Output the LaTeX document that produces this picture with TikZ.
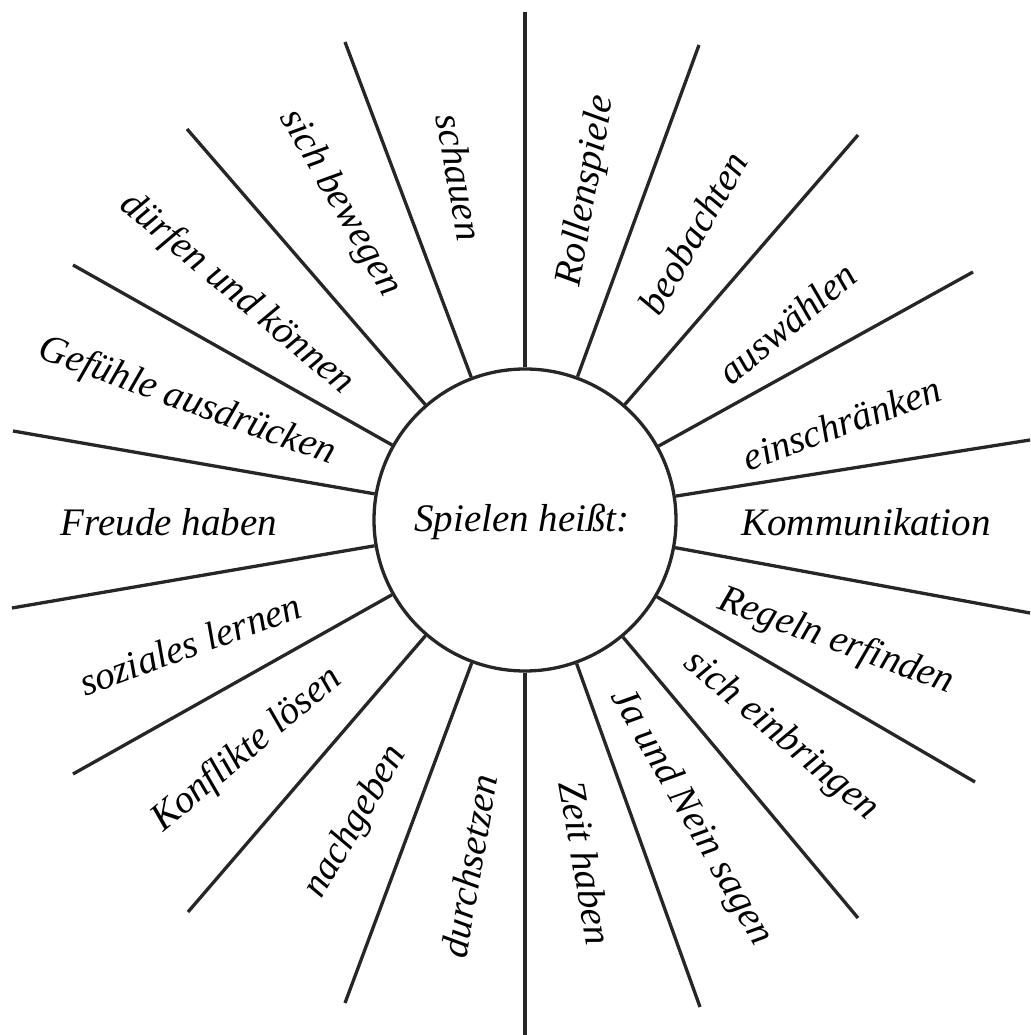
\documentclass[tikz,border=0pt]{standalone}
\usepackage{fontspec}
\setmainfont{Liberation Serif}
\begin{document}
\begin{tikzpicture}[x=1pt,y=1pt,
  lab/.style={font=\fontsize{39}{47}\selectfont\itshape, inner sep=0pt},
  spoke/.style={line width=3.3pt, black!85},
  hub/.style={draw=black!85, circle, line width=3.3pt, minimum size=302pt, inner sep=0pt}]
\useasboundingbox (0,0) rectangle (1030,1035);
\fill[white] (0,0) rectangle (1030,1035);
\node[hub] (c) at (525,515) {};
\node[lab] (centre) at (522,513) {Spielen heißt:};
% outer ends of the spokes
\coordinate (a90)  at (525,1023);
\coordinate (a70)  at (699,990);
\coordinate (a50)  at (858,900);
\coordinate (a30)  at (973,763);
\coordinate (a10)  at (1030,595);
\coordinate (b10)  at (1030,422);
\coordinate (b30)  at (975,253);
\coordinate (b50)  at (858,117);
\coordinate (b70)  at (700,28);
\coordinate (b90)  at (525,0);
\coordinate (b110) at (345,32);
\coordinate (b130) at (188,123);
\coordinate (b150) at (73,261);
\coordinate (b170) at (12,427);
\coordinate (a170) at (13,604);
\coordinate (a150) at (73,770);
\coordinate (a130) at (187,906);
\coordinate (a110) at (345,993);
\foreach \p in {a90,a70,a50,a30,a10,b10,b30,b50,b70,b90,b110,b130,b150,b170,a170,a150,a130,a110}
  \draw[spoke] (c) -- (\p);
% labels
\node[lab, rotate=-80] (l1)  at (460,858) {schauen};
\node[lab, rotate=-60] (l2)  at (340,832) {sich bewegen};
\node[lab, rotate=-40] (l3)  at (237,741) {dürfen und können};
\node[lab, rotate=-20] (l4)  at (187,633) {Gefühle ausdrücken};
\node[lab]             (l5)  at (169,513) {Freude haben};
\node[lab, rotate=20]  (l6)  at (190,391) {soziales lernen};
\node[lab, rotate=40]  (l7)  at (247,285) {Konflikte lösen};
\node[lab, rotate=60]  (l8)  at (356,213) {nachgeben};
\node[lab, rotate=80]  (l9)  at (469,169) {durchsetzen};
\node[lab, rotate=-80] (l10) at (586,172) {Zeit haben};
\node[lab, rotate=-60] (l11) at (691,218) {Ja und Nein sagen};
\node[lab, rotate=-40] (l12) at (781,299) {sich einbringen};
\node[lab, rotate=-20] (l13) at (836,393) {Regeln erfinden};
\node[lab]             (l14) at (866,513) {Kommunikation};
\node[lab, rotate=20]  (l15) at (842,612) {einschränken};
\node[lab, rotate=40]  (l16) at (787,712) {auswählen};
\node[lab, rotate=60]  (l17) at (693,802) {beobachten};
\node[lab, rotate=80]  (l18) at (587,844) {Rollenspiele};
\end{tikzpicture}
\end{document}
